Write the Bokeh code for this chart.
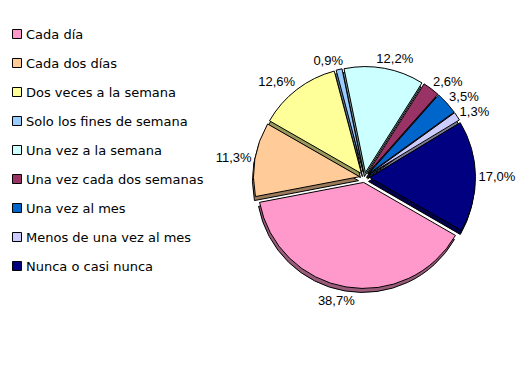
import math
from bokeh.plotting import figure
from bokeh.models import Range1d, ColumnDataSource
from bokeh.core.properties import value
from bokeh.embed import file_html
from bokeh.resources import INLINE

categories = ["Cada día", "Cada dos días", "Dos veces a la semana",
              "Solo los fines de semana", "Una vez a la semana",
              "Una vez cada dos semanas", "Una vez al mes",
              "Menos de una vez al mes", "Nunca o casi nunca"]
percentages = [38.7, 11.3, 12.6, 0.9, 12.2, 2.6, 3.5, 1.3, 17.0]
colors = ["#FF99CC", "#FFCC99", "#FFFF99", "#99CCFF", "#CCFFFF",
          "#993366", "#0066CC", "#CCCCFF", "#000080"]

# layout (page pixel coordinates, y measured downward, converted below)
W, H = 530, 365
CX, CY = 364.0, 177.0
R = 106.0
EXPLODE = 5.0
DEPTH = 4.0
START = 120.0  # degrees clockwise from 12 o'clock


def darker(hexc, f=0.6):
    h = hexc.lstrip("#")
    r, g, b = (int(h[i:i + 2], 16) for i in (0, 2, 4))
    return "#%02x%02x%02x" % (int(r * f), int(g * f), int(b * f))


def fmt(v):
    return ("%.1f" % v).replace(".", ",") + "%"


total = sum(percentages)
xs, ys, sa, ea, mids = [], [], [], [], []
cum = 0.0
for v in percentages:
    a0 = START + 360.0 * cum / total
    cum += v
    a1 = START + 360.0 * cum / total
    am = math.radians((a0 + a1) / 2.0)
    mids.append(am)
    xs.append(CX + EXPLODE * math.sin(am))
    ys.append(H - CY + EXPLODE * math.cos(am))
    sa.append(math.radians(90.0 - a1))
    ea.append(math.radians(90.0 - a0))

p = figure(width=W, height=H, x_range=Range1d(0, W), y_range=Range1d(0, H),
           x_axis_type=None, y_axis_type=None, toolbar_location=None,
           output_backend="svg", min_border=0, outline_line_color=None,
           background_fill_color="white", border_fill_color="white")
p.grid.visible = False

shadow = ColumnDataSource(dict(x=[x - 1 for x in xs], y=[y - DEPTH for y in ys],
                               s=sa, e=ea, c=[darker(c) for c in colors]))
p.wedge(x="x", y="y", radius=R, start_angle="s", end_angle="e", source=shadow,
        fill_color="c", line_color="black", line_width=1)

top = ColumnDataSource(dict(x=xs, y=ys, s=sa, e=ea, c=colors))
p.wedge(x="x", y="y", radius=R, start_angle="s", end_angle="e", source=top,
        fill_color="c", line_color="black", line_width=1)

# data labels
lx, ly, lt = [], [], []
for v, am in zip(percentages, mids):
    t = fmt(v)
    w = 7.2 * (len(t) - 2) + 15.2
    h = 13.0
    s, c = math.sin(am), math.cos(am)
    px = CX + (R + EXPLODE + 3) * s
    py = (H - CY) + (R + EXPLODE + 3) * c
    k = min(1.0, abs(s) * 3.0)
    x = px + math.copysign(w / 2.0 * k, s)
    y = py + c * h / 2.0
    if c < 0:
        y += DEPTH * c
    lx.append(x)
    ly.append(y)
    lt.append(t)
p.text(x=lx, y=ly, text=lt, text_align="center", text_baseline="middle",
       text_font=value("Liberation Sans"), text_font_size="13px", text_color="black")

# legend
rows_y = [H - (33.5 + 29 * i) for i in range(len(categories))]
p.rect(x=[16.5] * len(categories), y=rows_y, width=9, height=9,
       width_units="screen", height_units="screen",
       fill_color=colors, line_color="black", line_width=1)
p.text(x=[25.5] * len(categories), y=rows_y, text=categories, text_align="left",
       text_baseline="middle", text_font=value("DejaVu Sans"), text_font_size="13px",
       text_color="black")

open("out.html", "w").write(file_html(p, INLINE))
